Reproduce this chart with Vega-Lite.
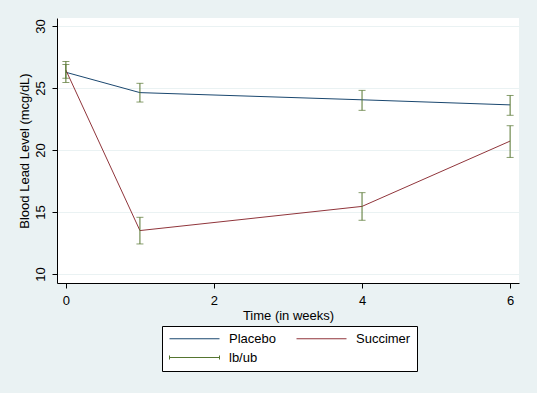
{
  "$schema": "https://vega.github.io/schema/vega-lite/v6.json",
  "width": 462,
  "height": 265,
  "autosize": {"type": "none"},
  "padding": {"left": 57, "top": 18, "right": 18, "bottom": 110},
  "background": "#eaf2f3",
  "config": {
    "font": "Liberation Sans",
    "view": {"fill": "white", "stroke": null},
    "axis": {
      "domainColor": "black",
      "domainWidth": 1,
      "tickColor": "black",
      "tickWidth": 1,
      "tickSize": 5,
      "labelColor": "black",
      "titleColor": "black",
      "labelFontSize": 13,
      "titleFontSize": 13,
      "titleFontWeight": "normal",
      "gridColor": "#eaf2f3",
      "gridWidth": 1
    },
    "legend": {
      "labelFontSize": 13,
      "labelColor": "black",
      "labelFont": "Liberation Sans"
    }
  },
  "datasets": {
    "means": [
      {"week": 0, "group": "Placebo", "lead": 26.27},
      {"week": 1, "group": "Placebo", "lead": 24.63},
      {"week": 4, "group": "Placebo", "lead": 24.05},
      {"week": 6, "group": "Placebo", "lead": 23.64},
      {"week": 0, "group": "Succimer", "lead": 26.45},
      {"week": 1, "group": "Succimer", "lead": 13.5},
      {"week": 4, "group": "Succimer", "lead": 15.45},
      {"week": 6, "group": "Succimer", "lead": 20.72}
    ],
    "ci": [
      {"week": 0, "group": "Placebo", "lb": 25.78, "ub": 26.9},
      {"week": 1, "group": "Placebo", "lb": 23.87, "ub": 25.38},
      {"week": 4, "group": "Placebo", "lb": 23.2, "ub": 24.81},
      {"week": 6, "group": "Placebo", "lb": 22.8, "ub": 24.4},
      {"week": 0, "group": "Succimer", "lb": 25.45, "ub": 27.15},
      {"week": 1, "group": "Succimer", "lb": 12.42, "ub": 14.57},
      {"week": 4, "group": "Succimer", "lb": 14.33, "ub": 16.56},
      {"week": 6, "group": "Succimer", "lb": 19.4, "ub": 21.96}
    ]
  },
  "layer": [
    {
      "data": {"name": "means"},
      "mark": {"type": "line", "strokeWidth": 1},
      "encoding": {
        "x": {
          "field": "week", "type": "quantitative", "title": "Time (in weeks)",
          "scale": {"domain": [-0.12, 6.12], "nice": false, "zero": false},
          "axis": {"values": [0, 2, 4, 6], "format": "d", "grid": false, "labelPadding": 6, "titlePadding": 2}
        },
        "y": {
          "field": "lead", "type": "quantitative", "title": "Blood Lead Level (mcg/dL)",
          "scale": {"domain": [9.27, 30.65], "nice": false, "zero": false},
          "axis": {"values": [10, 15, 20, 25, 30], "format": "d", "grid": true, "labelAngle": -90, "labelAlign": "center", "labelBaseline": "bottom", "labelPadding": 5, "titlePadding": 3}
        },
        "color": {
          "field": "group", "type": "nominal",
          "scale": {"domain": ["Placebo", "Succimer", "lb/ub"], "range": ["#1a476f", "#90353b", "#55752f"]},
          "legend": {
            "title": null,
            "orient": "none",
            "legendX": 105,
            "legendY": 308,
            "direction": "horizontal",
            "columns": 2,
            "columnPadding": 18,
            "rowPadding": 5,
            "padding": 6,
            "fillColor": "white",
            "strokeColor": "black",
            "symbolSize": 100,
            "symbolStrokeWidth": 1,
            "labelOffset": 48,
            "encode": {
              "symbols": {
                "update": {
                  "shape": {"signal": "datum.value === 'lb/ub' ? 'M-1,0L9,0M-1,-0.4L-1,0.4M9,-0.4L9,0.4' : 'M-1,0L9,0'"}
                }
              }
            }
          }
        }
      }
    },
    {
      "data": {"name": "ci"},
      "mark": {"type": "rule", "color": "#55752f", "strokeWidth": 1},
      "encoding": {
        "x": {"field": "week", "type": "quantitative", "title": "Time (in weeks)"},
        "y": {"field": "lb", "type": "quantitative", "title": "Blood Lead Level (mcg/dL)"},
        "y2": {"field": "ub"}
      }
    },
    {
      "data": {"name": "ci"},
      "mark": {"type": "tick", "orient": "horizontal", "color": "#55752f", "size": 7, "thickness": 1},
      "encoding": {
        "x": {"field": "week", "type": "quantitative", "title": "Time (in weeks)"},
        "y": {"field": "lb", "type": "quantitative", "title": "Blood Lead Level (mcg/dL)"}
      }
    },
    {
      "data": {"name": "ci"},
      "mark": {"type": "tick", "orient": "horizontal", "color": "#55752f", "size": 7, "thickness": 1},
      "encoding": {
        "x": {"field": "week", "type": "quantitative", "title": "Time (in weeks)"},
        "y": {"field": "ub", "type": "quantitative", "title": "Blood Lead Level (mcg/dL)"}
      }
    }
  ]
}
